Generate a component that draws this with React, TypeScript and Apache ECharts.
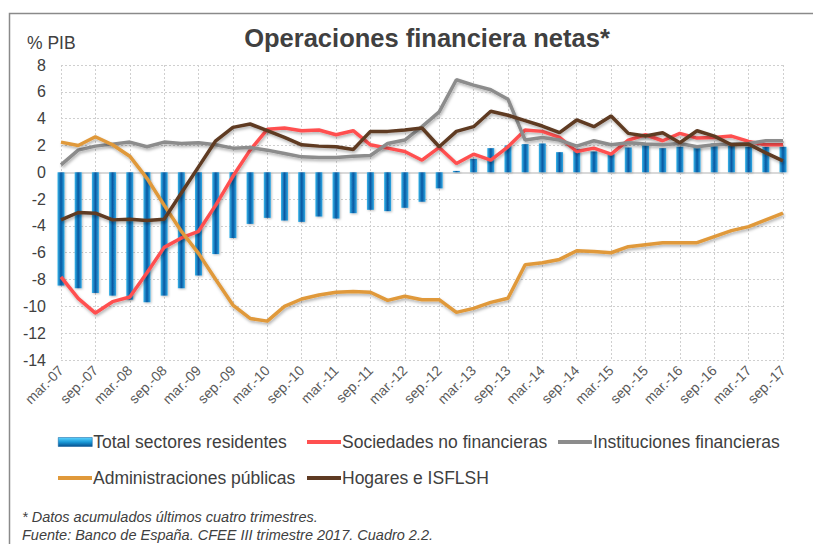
import React, { useEffect, useRef } from "react";
import * as echarts from "echarts";

const years = ["07", "08", "09", "10", "11", "12", "13", "14", "15", "16", "17"];
const months = ["mar.", "jun.", "sep.", "dic."];
const categories: string[] = [];
years.forEach((y) => months.forEach((m) => categories.push(`${m}-${y}`)));
categories.splice(43);

const totalSectores = [
  -8.45, -8.65, -9.0, -9.2, -9.5, -9.7, -9.2, -8.65, -7.7, -6.1, -4.9, -3.85, -3.4, -3.6, -3.7, -3.3,
  -3.45, -3.05, -2.8, -2.9, -2.65, -2.2, -1.2, 0.1, 1.0, 1.8, 2.0, 2.1, 2.15, 1.5, 1.75, 1.55, 1.35,
  1.85, 2.05, 1.8, 1.9, 1.9, 2.15, 2.05, 1.9, 1.9, 1.9,
];
const sociedades = [
  -7.8, -9.4, -10.5, -9.65, -9.3, -7.5, -5.6, -4.9, -4.4, -2.45, -0.3, 1.65, 3.2, 3.3, 3.1, 3.15, 2.8,
  3.1, 2.05, 1.8, 1.55, 0.9, 1.85, 0.65, 1.35, 0.9, 1.9, 3.15, 3.05, 2.6, 1.55, 1.8, 1.35, 2.4, 2.8,
  2.35, 2.9, 2.55, 2.6, 2.7, 2.3, 2.05, 2.05,
];
const instituciones = [
  0.55, 1.65, 1.95, 2.1, 2.25, 1.9, 2.25, 2.15, 2.2, 2.05, 1.8, 1.85, 1.65, 1.4, 1.15, 1.1, 1.1, 1.2,
  1.25, 2.15, 2.4, 3.4, 4.5, 6.9, 6.5, 6.15, 5.45, 2.4, 2.6, 2.4, 1.95, 2.35, 2.05, 2.2, 2.1, 2.05,
  2.15, 1.9, 2.05, 2.1, 2.15, 2.35, 2.35,
];
const administraciones = [
  2.25, 2.0, 2.65, 2.05, 1.2, -0.45, -2.45, -4.4, -6.05, -8.0, -9.9, -10.9, -11.1, -10.0, -9.45, -9.15,
  -8.95, -8.9, -8.95, -9.55, -9.25, -9.5, -9.5, -10.45, -10.15, -9.7, -9.4, -6.9, -6.75, -6.5, -5.85,
  -5.9, -6.0, -5.55, -5.4, -5.25, -5.25, -5.25, -4.8, -4.35, -4.05, -3.55, -3.05,
];
const hogares = [
  -3.55, -3.0, -3.05, -3.55, -3.5, -3.6, -3.5, -1.55, 0.4, 2.35, 3.35, 3.6, 3.1, 2.6, 2.05, 1.95, 1.9,
  1.7, 3.05, 3.05, 3.15, 3.3, 1.9, 3.05, 3.4, 4.55, 4.25, 3.85, 3.45, 2.95, 3.9, 3.4, 4.2, 2.9, 2.7,
  2.95, 2.2, 3.1, 2.7, 2.05, 2.1, 1.45, 0.85,
];

const seriesNames = [
  "Total sectores residentes",
  "Sociedades no financieras",
  "Instituciones financieras",
  "Administraciones públicas",
  "Hogares e ISFLSH",
];
const colors = ["#0a66ad", "#ff5050", "#8c8c8c", "#e0993a", "#5e3a22"];

const FONT = "'Liberation Sans', Arial, Helvetica, sans-serif";

export default function App() {
  const ref = useRef<HTMLDivElement>(null);
  useEffect(() => {
    if (!ref.current) return;
    const chart = echarts.init(ref.current, undefined, { renderer: "svg" });
    const barGrad = new echarts.graphic.LinearGradient(0, 0, 1, 0, [
      { offset: 0, color: "#38b6ec" },
      { offset: 0.5, color: "#0757a0" },
      { offset: 1, color: "#2fa8e4" },
    ]);
    const legendBarGrad = new echarts.graphic.LinearGradient(0, 0, 0, 1, [
      { offset: 0, color: "#5fd4ff" },
      { offset: 0.5, color: "#1a9ad8" },
      { offset: 1, color: "#06508f" },
    ]);
    const lineShadow = {
      shadowColor: "rgba(0,0,0,0.3)",
      shadowBlur: 3,
      shadowOffsetX: 1,
      shadowOffsetY: 2,
    };
    const legendPos = [
      [58, 433],
      [307, 433],
      [558, 433],
      [58, 469],
      [307, 469],
    ];
    const legends = seriesNames.map((name, i) => ({
      left: legendPos[i][0],
      top: legendPos[i][1],
      orient: "horizontal",
      itemWidth: 34,
      itemHeight: i === 0 ? 9 : 4,
      icon: "rect",
      selectedMode: false,
      padding: 0,
      textStyle: { fontFamily: FONT, fontSize: 17.5, color: "#404040", padding: [0, 0, 0, -4] },
      data: [
        i === 0
          ? { name, itemStyle: { color: legendBarGrad, borderColor: "#0a5a9a", borderWidth: 0.5 } }
          : { name, itemStyle: { color: colors[i] } },
      ],
    }));
    const lineSeries = [sociedades, instituciones, administraciones, hogares].map((d, k) => ({
      name: seriesNames[k + 1],
      type: "line",
      data: d,
      symbol: "none",
      lineStyle: { color: colors[k + 1], width: 3.5, ...lineShadow },
      itemStyle: { color: colors[k + 1] },
      z: 3 + k,
    }));
    chart.setOption({
      animation: false,
      backgroundColor: "#ffffff",
      textStyle: { fontFamily: FONT },
      grid: { left: 61, right: 30, top: 65, bottom: 184, containLabel: false },
      legend: legends,
      xAxis: {
        type: "category",
        data: categories,
        boundaryGap: false,
        axisLine: { show: false, onZero: false },
        axisTick: { show: false },
        axisLabel: {
          interval: 1,
          rotate: 45,
          fontSize: 14,
          color: "#595959",
          fontFamily: FONT,
          margin: 8,
        },
        splitLine: {
          show: true,
          interval: 1,
          lineStyle: { color: "#cfcfcf", type: [2, 2], width: 1 },
        },
      },
      yAxis: {
        type: "value",
        min: -14,
        max: 8,
        interval: 2,
        axisLine: { show: false },
        axisTick: { show: false },
        axisLabel: { fontSize: 16, color: "#404040", fontFamily: FONT, margin: 15 },
        splitLine: { show: true, lineStyle: { color: "#cfcfcf", type: [2, 2], width: 1 } },
      },
      series: [
        {
          name: seriesNames[0],
          type: "bar",
          data: totalSectores,
          barWidth: 7,
          clip: false,
          itemStyle: {
            color: barGrad,
            shadowColor: "rgba(0,0,0,0.25)",
            shadowBlur: 2,
            shadowOffsetX: 1,
            shadowOffsetY: 1,
          },
          z: 2,
          markLine: {
            silent: true,
            symbol: "none",
            label: { show: false },
            lineStyle: { color: "#d9d9d9", type: "solid", width: 2 },
            data: [{ yAxis: 0 }],
            z: 1,
          },
        },
        ...lineSeries,
      ],
      graphic: [
        {
          type: "rect",
          shape: { x: 9.5, y: 13.5, width: 900, height: 700 },
          style: { fill: "none", stroke: "#8a8a8a", lineWidth: 1.5 },
          silent: true,
        },
        {
          type: "text",
          x: 427,
          y: 38,
          style: {
            text: "Operaciones financiera netas*",
            fontFamily: FONT,
            fontSize: 25.5,
            fontWeight: "bold",
            fill: "#404040",
            textAlign: "center",
            textVerticalAlign: "middle",
          },
        },
        {
          type: "text",
          x: 27,
          y: 43,
          style: {
            text: "% PIB",
            fontFamily: FONT,
            fontSize: 17.5,
            fill: "#404040",
            textAlign: "left",
            textVerticalAlign: "middle",
          },
        },
        {
          type: "text",
          x: 22,
          y: 517,
          style: {
            text: "* Datos acumulados últimos cuatro trimestres.",
            fontFamily: FONT,
            fontSize: 14.5,
            fontStyle: "italic",
            fill: "#404040",
            textAlign: "left",
            textVerticalAlign: "middle",
          },
        },
        {
          type: "text",
          x: 22,
          y: 535,
          style: {
            text: "Fuente: Banco de España. CFEE III trimestre 2017. Cuadro 2.2.",
            fontFamily: FONT,
            fontSize: 14.5,
            fontStyle: "italic",
            fill: "#404040",
            textAlign: "left",
            textVerticalAlign: "middle",
          },
        },
      ],
    });
    return () => chart.dispose();
  }, []);
  return (
    <div
      ref={ref}
      style={{ position: "fixed", left: 0, top: 0, width: 813, height: 544, background: "#fff" }}
    />
  );
}
